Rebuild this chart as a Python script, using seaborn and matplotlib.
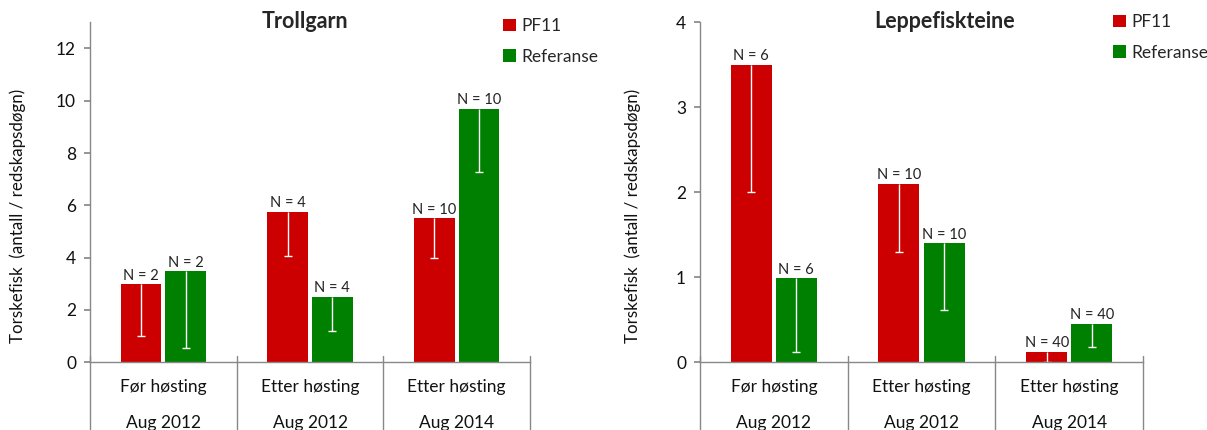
import numpy as np
import pandas as pd
import seaborn as sns
import matplotlib.pyplot as plt
from matplotlib import transforms

# data
categories = ['Før høsting', 'Etter høsting', 'Etter høsting']
periods = ['Aug 2012', 'Aug 2012', 'Aug 2014']
groups = ['PF11', 'Referanse']

troll_pf11 = [2.97, 5.75, 5.5]
troll_ref = [3.47, 2.5, 9.7]
troll_pf11_err = [1.97, 1.70, 1.50]
troll_ref_err = [2.95, 1.30, 2.44]
troll_n = [2, 4, 10]

lepp_pf11 = [3.5, 2.1, 0.12]
lepp_ref = [0.99, 1.4, 0.45]
lepp_pf11_err = [1.5, 0.8, 0.12]
lepp_ref_err = [0.87, 0.79, 0.27]
lepp_n = [6, 10, 40]

colors = {'PF11': '#CC0000', 'Referanse': '#008000'}
gray = '#888888'

sns.set_theme(style='white')
plt.rcParams['font.family'] = ['Lato', 'DejaVu Sans']


def panel(ax, title, title_x, pf11, ref, pf11_err, ref_err, n, ymax, ystep, leg_xy, ylab_x):
    keys = [c + '|' + p for c, p in zip(categories, periods)]
    df = pd.DataFrame({'key': keys * 2,
                       'gruppe': ['PF11'] * 3 + ['Referanse'] * 3,
                       'verdi': pf11 + ref,
                       'err': pf11_err + ref_err})
    sns.barplot(data=df, x='key', y='verdi', hue='gruppe', hue_order=groups,
                palette=colors, width=0.61, gap=0.09, errorbar=None,
                saturation=1, ax=ax, linewidth=0)

    # minus-only error bars in white, cap only at the lower end
    for cont, g in zip(ax.containers, groups):
        sub = df[df.gruppe == g]
        xs = [p.get_x() + p.get_width() / 2 for p in cont]
        ax.errorbar(xs, sub.verdi, yerr=[sub.err, np.zeros(len(sub))], fmt='none',
                    ecolor='white', elinewidth=1, capsize=0)
        ax.plot(xs, sub.verdi - sub.err, ls='none', marker='_', ms=6, mew=1,
                color='white')
        ax.bar_label(cont, labels=[f'N = {v}' for v in n], padding=1,
                     fontsize=10.5, color='#222222')

    ax.set_ylim(0, ymax)
    ax.set_xlim(-0.5, len(categories) - 0.5)
    ax.set_yticks(np.arange(0, ymax + 0.01, ystep))
    ax.tick_params(axis='y', left=True, length=4, color=gray, labelsize=12.5,
                   labelcolor='#111111', pad=6)
    ax.tick_params(axis='x', bottom=False, labelbottom=False)
    for s in ['top', 'right']:
        ax.spines[s].set_visible(False)
    for s in ['left', 'bottom']:
        ax.spines[s].set_color(gray)
        ax.spines[s].set_linewidth(1)
    ax.set_xlabel('')
    ax.set_ylabel('')

    trans = transforms.blended_transform_factory(ax.transData, ax.transAxes)
    for b in np.arange(len(categories) + 1) - 0.5:
        ax.plot([b, b], [0.018, -0.35], transform=trans, clip_on=False,
                color=gray, lw=1)
    for i, (c, p) in enumerate(zip(categories, periods)):
        ax.text(i, -0.074, c, transform=trans, ha='center', va='center',
                fontsize=12.5, color='#111111')
        ax.text(i, -0.18, p, transform=trans, ha='center', va='center',
                fontsize=12.5, color='#111111')

    ax.text(ylab_x, 0.43, 'Torskefisk  (antall / redskapsdøgn)', transform=ax.transAxes,
            rotation=90, ha='center', va='center', fontsize=12.2, color='#111111')

    fig.text(title_x, 1 - 22 / 430, title, ha='center', va='center',
             fontsize=15.5, fontweight='bold')

    handles, labels = ax.get_legend_handles_labels()
    ax.legend(handles, labels, loc='upper left', bbox_to_anchor=leg_xy,
              bbox_transform=fig.transFigure, frameon=False, handlelength=0.75,
              handleheight=0.75, handletextpad=0.3, labelspacing=0.85,
              fontsize=12.5, borderpad=0, borderaxespad=0)


fig = plt.figure(figsize=(12.07, 4.30), dpi=100)
ax1 = fig.add_axes([90 / 1207, 0.158, 440 / 1207, 0.79])
ax2 = fig.add_axes([700 / 1207, 0.158, 443 / 1207, 0.79])

panel(ax1, 'Trollgarn', 305 / 1207, troll_pf11, troll_ref, troll_pf11_err, troll_ref_err,
      troll_n, 13, 2, (503 / 1207, 1 - 18 / 430), -0.164)
panel(ax2, 'Leppefiskteine', 945 / 1207, lepp_pf11, lepp_ref, lepp_pf11_err, lepp_ref_err,
      lepp_n, 4, 1, (1113 / 1207, 1 - 14 / 430), -0.151)

fig.savefig('out.png', dpi=100)
